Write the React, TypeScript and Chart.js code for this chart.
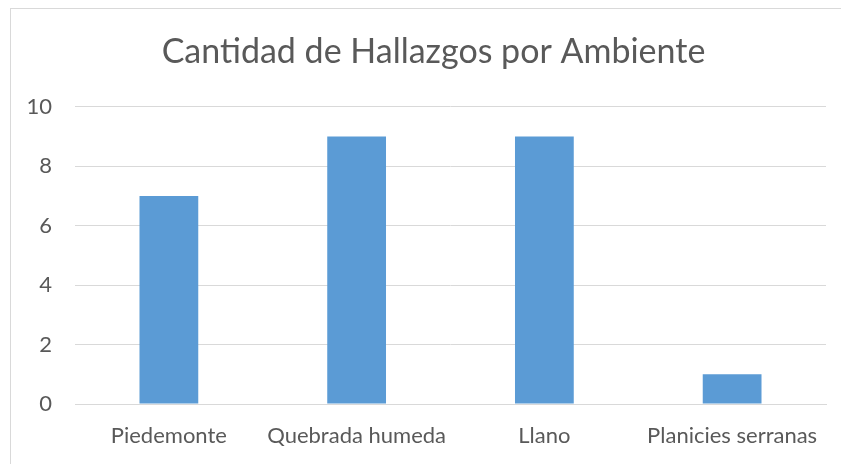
import React, { useEffect, useRef } from "react";
import { Chart, registerables } from "chart.js";

Chart.register(...registerables);

const categories = ["Piedemonte", "Quebrada humeda", "Llano", "Planicies serranas"];
const hallazgos = [7, 9, 9, 1];
const titleText = "Cantidad de Hallazgos por Ambiente";

export default function App() {
  const ref = useRef<HTMLCanvasElement | null>(null);
  useEffect(() => {
    if (!ref.current) return;
    const font = "Lato, 'Open Sans', sans-serif";
    const shiftTitle = {
      id: "shiftTitle",
      afterLayout(chart: any) {
        const t = chart.titleBlock;
        if (t) t.left = t.left + 30;
      },
    };
    const chart = new Chart(ref.current, {
      type: "bar",
      data: {
        labels: categories,
        datasets: [
          {
            label: "Hallazgos",
            data: hallazgos,
            backgroundColor: "#5b9bd5",
            categoryPercentage: 1,
            barPercentage: 0.313,
          },
        ],
      },
      options: {
        animation: false,
        responsive: false,
        maintainAspectRatio: false,
        layout: { padding: { left: 0, right: 15, top: 0, bottom: 0 } },
        plugins: {
          legend: { display: false },
          tooltip: { enabled: false },
          title: {
            display: true,
            text: titleText,
            color: "#595959",
            font: { family: font, size: 34, weight: "normal", lineHeight: 1.2 },
            padding: { top: 23, bottom: 34 },
          },
        },
        scales: {
          x: {
            grid: { display: false, drawTicks: false },
            border: { display: true, color: "#d9d9d9", width: 1 },
            ticks: { color: "#595959", font: { family: font, size: 22 }, padding: 19, maxRotation: 0 },
            afterFit: (s: any) => { s.height = 60; },
          },
          y: {
            min: 0,
            max: 10,
            ticks: { stepSize: 2, color: "#595959", font: { family: font, size: 22 }, padding: 23 },
            grid: { color: "#d9d9d9", drawTicks: false, lineWidth: 1 },
            border: { display: false },
            afterFit: (s: any) => { s.width = 64; },
          },
        },
      },
      plugins: [shiftTitle],
    });
    return () => chart.destroy();
  }, []);
  return (
    <div
      style={{
        position: "absolute",
        left: 10,
        top: 8,
        width: 840,
        height: 470,
        borderTop: "1px solid #d9d9d9",
        borderLeft: "1px solid #d9d9d9",
        overflow: "hidden",
        background: "#fff",
      }}
    >
      <canvas ref={ref} width={830} height={455} style={{ display: "block" }} />
    </div>
  );
}
